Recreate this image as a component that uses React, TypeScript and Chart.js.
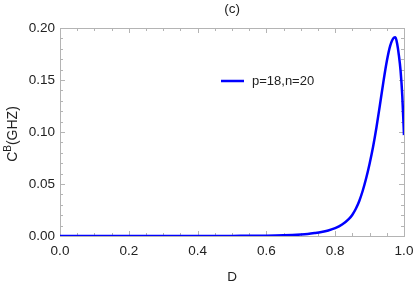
import React, { useEffect, useRef } from "react";
import { Chart, registerables } from "chart.js";

Chart.register(...registerables);

const dValues = [0, 0.1, 0.2, 0.3, 0.4, 0.5, 0.6, 0.65, 0.7, 0.72, 0.74, 0.76, 0.78, 0.8, 0.82, 0.84, 0.85, 0.86, 0.87, 0.88, 0.89, 0.9, 0.91, 0.92, 0.93, 0.94, 0.95, 0.96, 0.97, 0.975, 0.98, 0.985, 0.99, 0.995, 1.0];
const cValues = [0, 0, 0, 0, 0, 0.0001, 0.0003, 0.0007, 0.0015, 0.002, 0.0028, 0.0038, 0.0053, 0.0075, 0.011, 0.0165, 0.0205, 0.0262, 0.0337, 0.0435, 0.0555, 0.0695, 0.0855, 0.1045, 0.126, 0.148, 0.168, 0.183, 0.1905, 0.191, 0.185, 0.174, 0.159, 0.135, 0.097];
const seriesLabel = "p=18,n=20";
const titleText = "(c)";
const xTitle = "D";
const yTitleMain = "C";
const yTitleSup = "B";
const yTitleRest = "(GHZ)";

const FONT = '"Liberation Sans", Arial, sans-serif';
const FRAME = "#b4b4b4";
const BLUE = "#0000ff";
const TEXT = "#222";

const framePlugin = {
  id: "framePlugin",
  beforeDatasetsDraw(chart: any) {
    const { ctx, chartArea: a, scales } = chart;
    const xs = scales.x, ys = scales.y;
    ctx.save();
    ctx.strokeStyle = FRAME;
    ctx.lineWidth = 1;
    ctx.strokeRect(a.left + 0.5, a.top + 0.5, a.right - a.left, a.bottom - a.top);
    for (let i = 0; i <= 20; i++) {
      const v = i * 0.05;
      const px = Math.round(xs.getPixelForValue(v)) + 0.5;
      const len = i % 4 === 0 ? 5 : 3;
      ctx.beginPath();
      ctx.moveTo(px, a.bottom);
      ctx.lineTo(px, a.bottom - len);
      ctx.moveTo(px, a.top);
      ctx.lineTo(px, a.top + len);
      ctx.stroke();
    }
    for (let i = 0; i <= 20; i++) {
      const v = i * 0.01;
      const py = Math.round(ys.getPixelForValue(v)) + 0.5;
      const len = i % 5 === 0 ? 5 : 3;
      ctx.beginPath();
      ctx.moveTo(a.left, py);
      ctx.lineTo(a.left + len, py);
      ctx.moveTo(a.right, py);
      ctx.lineTo(a.right - len, py);
      ctx.stroke();
    }
    ctx.restore();
  },
  afterDraw(chart: any) {
    const { ctx, chartArea: a } = chart;
    const cx = (a.left + a.right) / 2;
    ctx.save();
    ctx.fillStyle = TEXT;
    ctx.font = `13.5px ${FONT}`;
    ctx.textAlign = "center";
    ctx.textBaseline = "middle";
    ctx.fillText(titleText, cx, 9);
    ctx.fillText(xTitle, cx, 277);
    ctx.strokeStyle = BLUE;
    ctx.lineWidth = 2.5;
    ctx.beginPath();
    ctx.moveTo(221, 81);
    ctx.lineTo(244, 81);
    ctx.stroke();
    ctx.textAlign = "left";
    ctx.font = `13px ${FONT}`;
    ctx.fillText(chart.data.datasets[0].label, 252, 81);
    ctx.translate(16.5, 134);
    ctx.rotate(-Math.PI / 2);
    ctx.textBaseline = "alphabetic";
    ctx.font = `14px ${FONT}`;
    const w1 = ctx.measureText(yTitleMain).width;
    ctx.font = `10px ${FONT}`;
    const w2 = ctx.measureText(yTitleSup).width;
    ctx.font = `14px ${FONT}`;
    const w3 = ctx.measureText(yTitleRest).width;
    const x0 = -(w1 + w2 + w3) / 2;
    ctx.fillText(yTitleMain, x0, 0);
    ctx.font = `10px ${FONT}`;
    ctx.fillText(yTitleSup, x0 + w1, -5.5);
    ctx.font = `14px ${FONT}`;
    ctx.fillText(yTitleRest, x0 + w1 + w2, 0);
    ctx.restore();
  },
};

export default function App() {
  const ref = useRef<HTMLCanvasElement>(null);
  useEffect(() => {
    document.body.style.margin = "0";
    const chart = new Chart(ref.current!, {
      type: "line",
      data: {
        datasets: [
          {
            label: seriesLabel,
            data: dValues.map((d, i) => ({ x: d, y: cValues[i] })),
            borderColor: BLUE,
            backgroundColor: BLUE,
            borderWidth: 2.5,
            pointRadius: 0,
            tension: 0.4,
            cubicInterpolationMode: "monotone",
            fill: false,
          },
        ],
      },
      options: {
        animation: false,
        responsive: false,
        layout: { padding: { top: 28, right: 11, left: 0, bottom: 0 } },
        plugins: { legend: { display: false }, title: { display: false }, tooltip: { enabled: false } },
        scales: {
          x: {
            type: "linear",
            min: 0,
            max: 1,
            grid: { display: false, drawTicks: false },
            border: { display: false },
            ticks: {
              stepSize: 0.2,
              padding: 7,
              color: TEXT,
              font: { family: FONT, size: 13.5 },
              maxRotation: 0,
              callback: (v: any) => Number(v).toFixed(1),
            },
            afterFit: (s: any) => { s.height = 48; s.paddingLeft = 0; s.paddingRight = 0; },
          },
          y: {
            type: "linear",
            min: 0,
            max: 0.2,
            grid: { display: false, drawTicks: false },
            border: { display: false },
            ticks: {
              stepSize: 0.05,
              padding: 5,
              color: TEXT,
              font: { family: FONT, size: 13.5 },
              callback: (v: any) => Number(v).toFixed(2),
            },
            afterFit: (s: any) => { s.width = 60; s.paddingTop = 0; s.paddingBottom = 0; },
          },
        },
      },
      plugins: [framePlugin],
    } as any);
    return () => chart.destroy();
  }, []);
  return (
    <div style={{ position: "relative", width: 415, height: 284 }}>
      <canvas ref={ref} width={415} height={284} style={{ display: "block" }} />
    </div>
  );
}
